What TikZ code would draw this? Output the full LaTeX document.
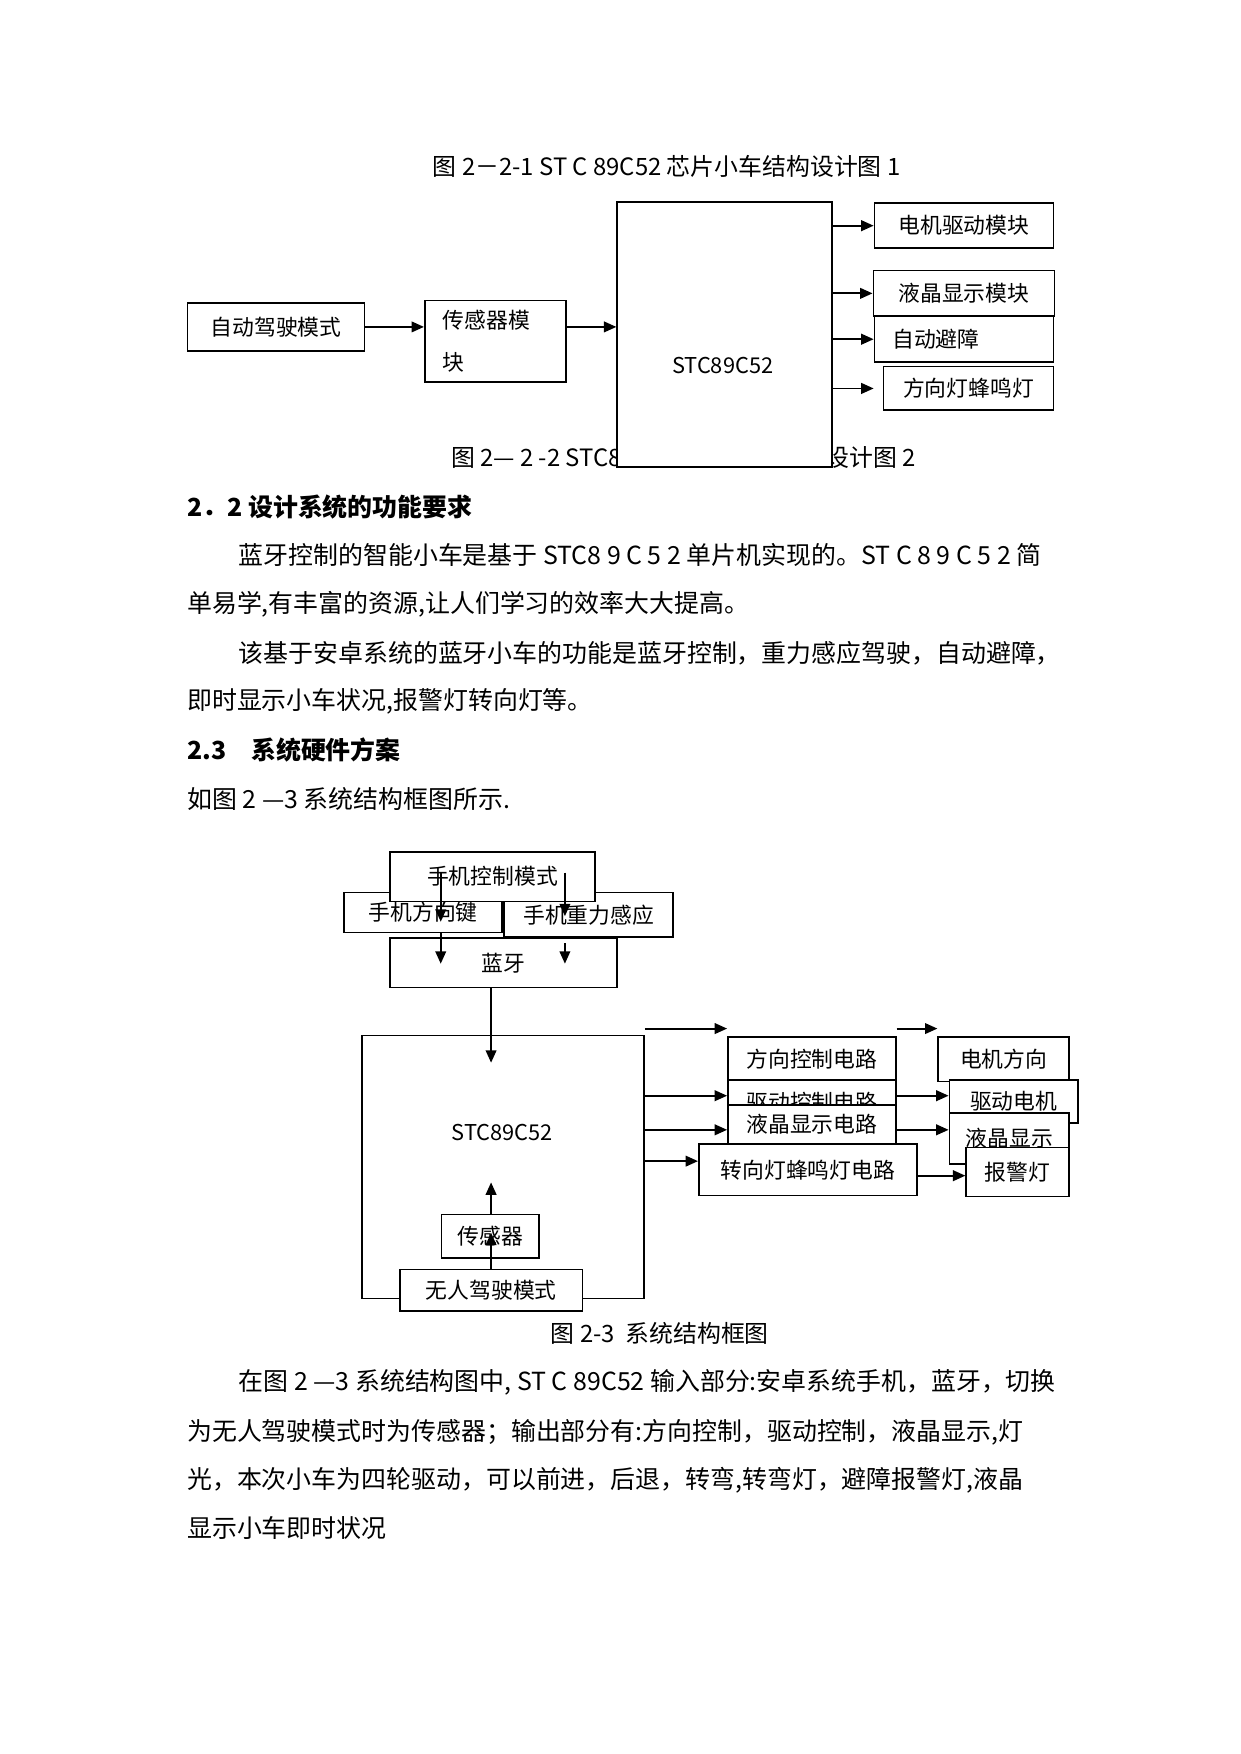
\documentclass[tikz,border=0pt]{standalone}
\usepackage{fontspec}
\setmainfont{Noto Sans CJK SC}
\usetikzlibrary{arrows.meta}
\newlength\pxu
\setlength\pxu{0.018936cm}

\begin{document}
\begin{tikzpicture}[
    x=0.018936cm, y=-0.018936cm,
    every node/.style={inner sep=0pt},
    body/.style={anchor=west, font=\fontsize{12pt}{14pt}\selectfont},
    head/.style={anchor=west, font=\fontsize{12pt}{14pt}\selectfont\bfseries},
    captxt/.style={font=\fontsize{10.5pt}{12pt}\selectfont},
    figtitle/.style={font=\fontsize{11.5pt}{13pt}\selectfont},
    blk/.style={draw, line width=0.8pt, fill=white, anchor=north west, align=center, font=\fontsize{10.5pt}{12pt}\selectfont},
    arr/.style={-{Triangle[length=2.1mm, width=1.8mm]}, line width=0.9pt}
]
\useasboundingbox[fill=white] (0,0) rectangle (1109,1568);

% --- Figure 2-2-1 / 2-2-2 ---
\node[figtitle] (cap1) at (596,149) {图 2－2-1 ST C 89C52 芯片小车结构设计图 1};
\node[figtitle, anchor=west] (cap2) at (403,409) {图 2— 2 -2 STC89C52 芯片小车结构设计图 2};

\node[blk, minimum width=158\pxu, minimum height=43\pxu] (auto) at (167,270) {自动驾驶模式};
\node[blk, minimum width=126\pxu, minimum height=73\pxu, text width=94\pxu, align=left, font=\fontsize{10.5pt}{20.4pt}\selectfont] (sens) at (379,268) {传感器模\\块};
\node[blk, minimum width=192\pxu, minimum height=237\pxu] (stc) at (551,180) {};
\node[captxt] (stclbl) at (646,327) {STC89C52};

\node[blk, minimum width=160\pxu, minimum height=40\pxu] (motor) at (781,181) {电机驱动模块};
\node[blk, minimum width=162\pxu, minimum height=41\pxu] (lcd) at (780,241) {液晶显示模块};
\node[blk, minimum width=160\pxu, minimum height=41\pxu, text width=128\pxu, align=left] (avoid) at (781,282) {自动避障};
\node[blk, minimum width=152\pxu, minimum height=39\pxu] (lamp) at (789,327) {方向灯蜂鸣灯};

\draw[arr] (auto.east) -- (sens.west |- auto.east);
\draw[arr] (sens.east |- auto.east) -- (stc.west |- auto.east);
\draw[arr] (stc.east |- motor.west) -- (motor.west);
\draw[arr] (stc.east |- lcd.west) -- (lcd.west);
\draw[arr] (stc.east |- avoid.west) -- (avoid.west);
\draw[arr, shorten >=8\pxu] (stc.east |- lamp.west) -- (lamp.west);

% --- Text ---
\node[head] (h22) at (167,453) {2．2 设计系统的功能要求};
\node[body] (t1) at (213,496) {蓝牙控制的智能小车是基于 STC8 9 C 5 2 单片机实现的。ST C 8 9 C 5 2 简};
\node[body] (t2) at (167,540) {单易学,有丰富的资源,让人们学习的效率大大提高。};
\node[body] (t3) at (213,584) {该基于安卓系统的蓝牙小车的功能是蓝牙控制，重力感应驾驶，自动避障，};
\node[body] (t4) at (167,627) {即时显示小车状况,报警灯转向灯等。};
\node[head] (h23) at (167,670) {2.3\quad 系统硬件方案};
\node[body] (t5) at (167,714) {如图 2 —3 系统结构框图所示.};

% --- Figure 2-3 ---
\node[blk, minimum width=141\pxu, minimum height=36\pxu] (keys) at (307,797) {手机方向键};
\node[blk, minimum width=151\pxu, minimum height=40\pxu] (grav) at (450,797) {手机重力感应};
\node[blk, minimum width=183\pxu, minimum height=44\pxu] (phone) at (348,761) {手机控制模式};
\node[blk, minimum width=203\pxu, minimum height=44\pxu] (bt) at (348,838) {蓝牙};

\node[blk, minimum width=252\pxu, minimum height=235\pxu] (mcu) at (323,925) {};
\node[captxt] (mculbl) at (449,1012) {STC89C52};
\node[blk, minimum width=87\pxu, minimum height=39\pxu] (sensor) at (394,1085) {传感器};
\node[blk, minimum width=163\pxu, minimum height=37\pxu] (auto2) at (357,1134) {无人驾驶模式};

\node[blk, minimum width=150\pxu, minimum height=40\pxu] (dirc) at (650,926) {方向控制电路};
\node[blk, minimum width=150\pxu, minimum height=40\pxu] (drvc) at (650,965) {驱动控制电路};
\node[blk, minimum width=150\pxu, minimum height=35\pxu] (lcdc) at (650,987) {液晶显示电路};
\node[blk, minimum width=195\pxu, minimum height=46\pxu] (lampc) at (624,1022) {转向灯蜂鸣灯电路};

\node[blk, minimum width=117\pxu, minimum height=40\pxu] (mdir) at (838,926) {电机方向};
\node[blk, minimum width=115\pxu, minimum height=38\pxu] (mdrv) at (848,965) {驱动电机};
\node[blk, minimum width=107\pxu, minimum height=46\pxu] (mlcd) at (848,994) {液晶显示};
\node[blk, minimum width=92\pxu, minimum height=44\pxu] (alarm) at (863,1025) {报警灯};

\coordinate (pk1) at (394,780);
\coordinate (pk2) at (394,824);
\coordinate (kb1) at (394,834);
\coordinate (kb2) at (394,861.5);
\coordinate (pg1) at (505,780);
\coordinate (pg2) at (505,819);
\coordinate (gb1) at (505,843);
\coordinate (gb2) at (505,861.5);
\coordinate (bm) at (439,950);
\coordinate (sm) at (439,1057);
\coordinate (as) at (439,1102);
\coordinate (fy) at (0,919.5);
\coordinate (y1) at (0,979.5);
\coordinate (y2) at (0,1010);
\coordinate (y3) at (0,1038);
\coordinate (y4) at (0,1051);

\draw[arr] (pk1) -- (pk2);
\draw[arr] (kb1) -- (kb2);
\draw[arr] (pg1) -- (pg2);
\draw[arr] (gb1) -- (gb2);
\draw[arr] (bm |- bt.south) -- (bm);
\draw[arr] (sm |- sensor.north) -- (sm);
\draw[arr] (as |- auto2.north) -- (as);

\draw[arr] (mcu.east |- fy) -- (dirc.west |- fy);
\draw[arr] (dirc.east |- fy) -- (mdir.west |- fy);
\draw[arr] (mcu.east |- y1) -- (drvc.west |- y1);
\draw[arr] (drvc.east |- y1) -- (mdrv.west |- y1);
\draw[arr] (mcu.east |- y2) -- (lcdc.west |- y2);
\draw[arr] (lcdc.east |- y2) -- (mlcd.west |- y2);
\draw[arr] (mcu.east |- y3) -- (lampc.west |- y3);
\draw[arr] (lampc.east |- y4) -- (alarm.west |- y4);

\node[figtitle, anchor=west] (cap3) at (492,1192) {图 2-3\ \ 系统结构框图};

% --- Text ---
\node[body] (t6) at (213,1236) {在图 2 —3 系统结构图中, ST C 89C52 输入部分:安卓系统手机，蓝牙，切换};
\node[body] (t7) at (167,1280) {为无人驾驶模式时为传感器；输出部分有:方向控制，驱动控制，液晶显示,灯};
\node[body] (t8) at (167,1323) {光，本次小车为四轮驱动，可以前进，后退，转弯,转弯灯，避障报警灯,液晶};
\node[body] (t9) at (167,1366) {显示小车即时状况};
\end{tikzpicture}
\end{document}
